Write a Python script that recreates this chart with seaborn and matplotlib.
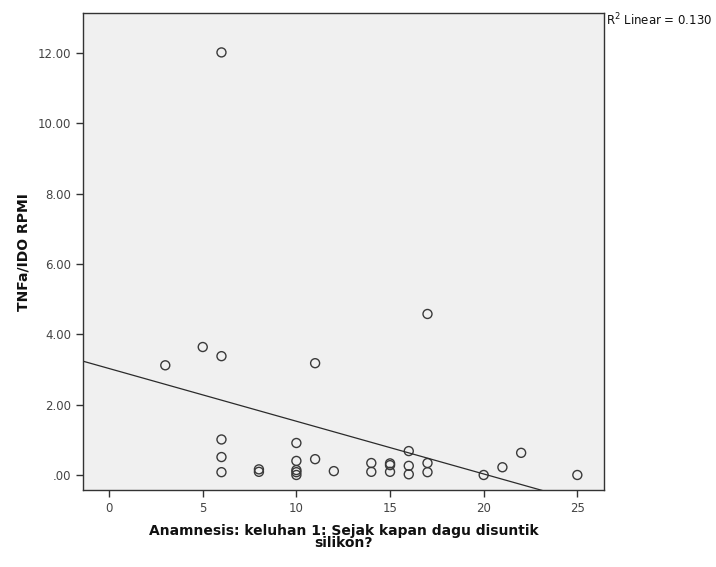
import matplotlib
matplotlib.use("Agg")
import matplotlib.pyplot as plt
import seaborn as sns
import numpy as np
import pandas as pd
from matplotlib.ticker import FuncFormatter

# data
lama_suntik = [3, 5, 6, 6, 6, 6, 6, 8, 8, 10, 10, 10, 10, 10, 11, 11, 12,
               14, 14, 15, 15, 15, 16, 16, 16, 17, 17, 17, 20, 21, 22, 25]
tnfa_ido = [3.12, 3.64, 12.02, 3.38, 1.01, 0.51, 0.08, 0.16, 0.09, 0.91,
            0.40, 0.14, 0.08, 0.0, 3.18, 0.45, 0.11, 0.34, 0.09, 0.33, 0.28,
            0.09, 0.68, 0.26, 0.02, 4.58, 0.34, 0.08, 0.0, 0.22, 0.63, 0.0]
x_ticks = [0, 5, 10, 15, 20, 25]
y_ticks = [0, 2, 4, 6, 8, 10, 12]
r2_text = "R$^2$ Linear = 0.130"
x_label = "Anamnesis: keluhan 1: Sejak kapan dagu disuntik\nsilikon?"
y_label = "TNFa/IDO RPMI"

df = pd.DataFrame({"x": lama_suntik, "y": tnfa_ido})

sns.set_style("ticks")
plt.rcParams["font.family"] = ["DejaVu Sans"]

fig = plt.figure(figsize=(7.16, 5.67), dpi=100)
ax = fig.add_axes([0.116, 0.135, 0.728, 0.842])
ax.set_facecolor("#f0f0f0")

# limits first so the fit line runs across the whole frame
ax.set_xlim(-1.39, 26.44)
ax.set_ylim(-0.44, 13.14)

sns.scatterplot(data=df, x="x", y="y", ax=ax, s=42, marker="o",
                facecolor="none", edgecolor="#3a3a3a", linewidth=1.0)
sns.regplot(data=df, x="x", y="y", ax=ax, scatter=False, ci=None,
            truncate=False, color="#2b2b2b", line_kws={"linewidth": 0.9})

ax.set_xlim(-1.39, 26.44)
ax.set_ylim(-0.44, 13.14)
ax.set_xticks(x_ticks)
ax.set_yticks(y_ticks)
ax.yaxis.set_major_formatter(FuncFormatter(
    lambda v, p: ".00" if v == 0 else f"{v:.2f}"))

for s in ax.spines.values():
    s.set_color("#333333")
    s.set_linewidth(1.0)
ax.tick_params(axis="both", direction="out", length=5, width=1,
               color="#333333", labelcolor="#444444", labelsize=8.5)

ax.set_xlabel(x_label, fontsize=10, fontweight="bold", color="#111111",
              linespacing=0.85, labelpad=6)
ax.set_ylabel(y_label, fontsize=10, fontweight="bold", color="#111111",
              labelpad=5)

fig.text(0.846, 0.964, r2_text, fontsize=8.5, color="#111111",
         ha="left", va="center")

fig.savefig("out.png", dpi=100)
